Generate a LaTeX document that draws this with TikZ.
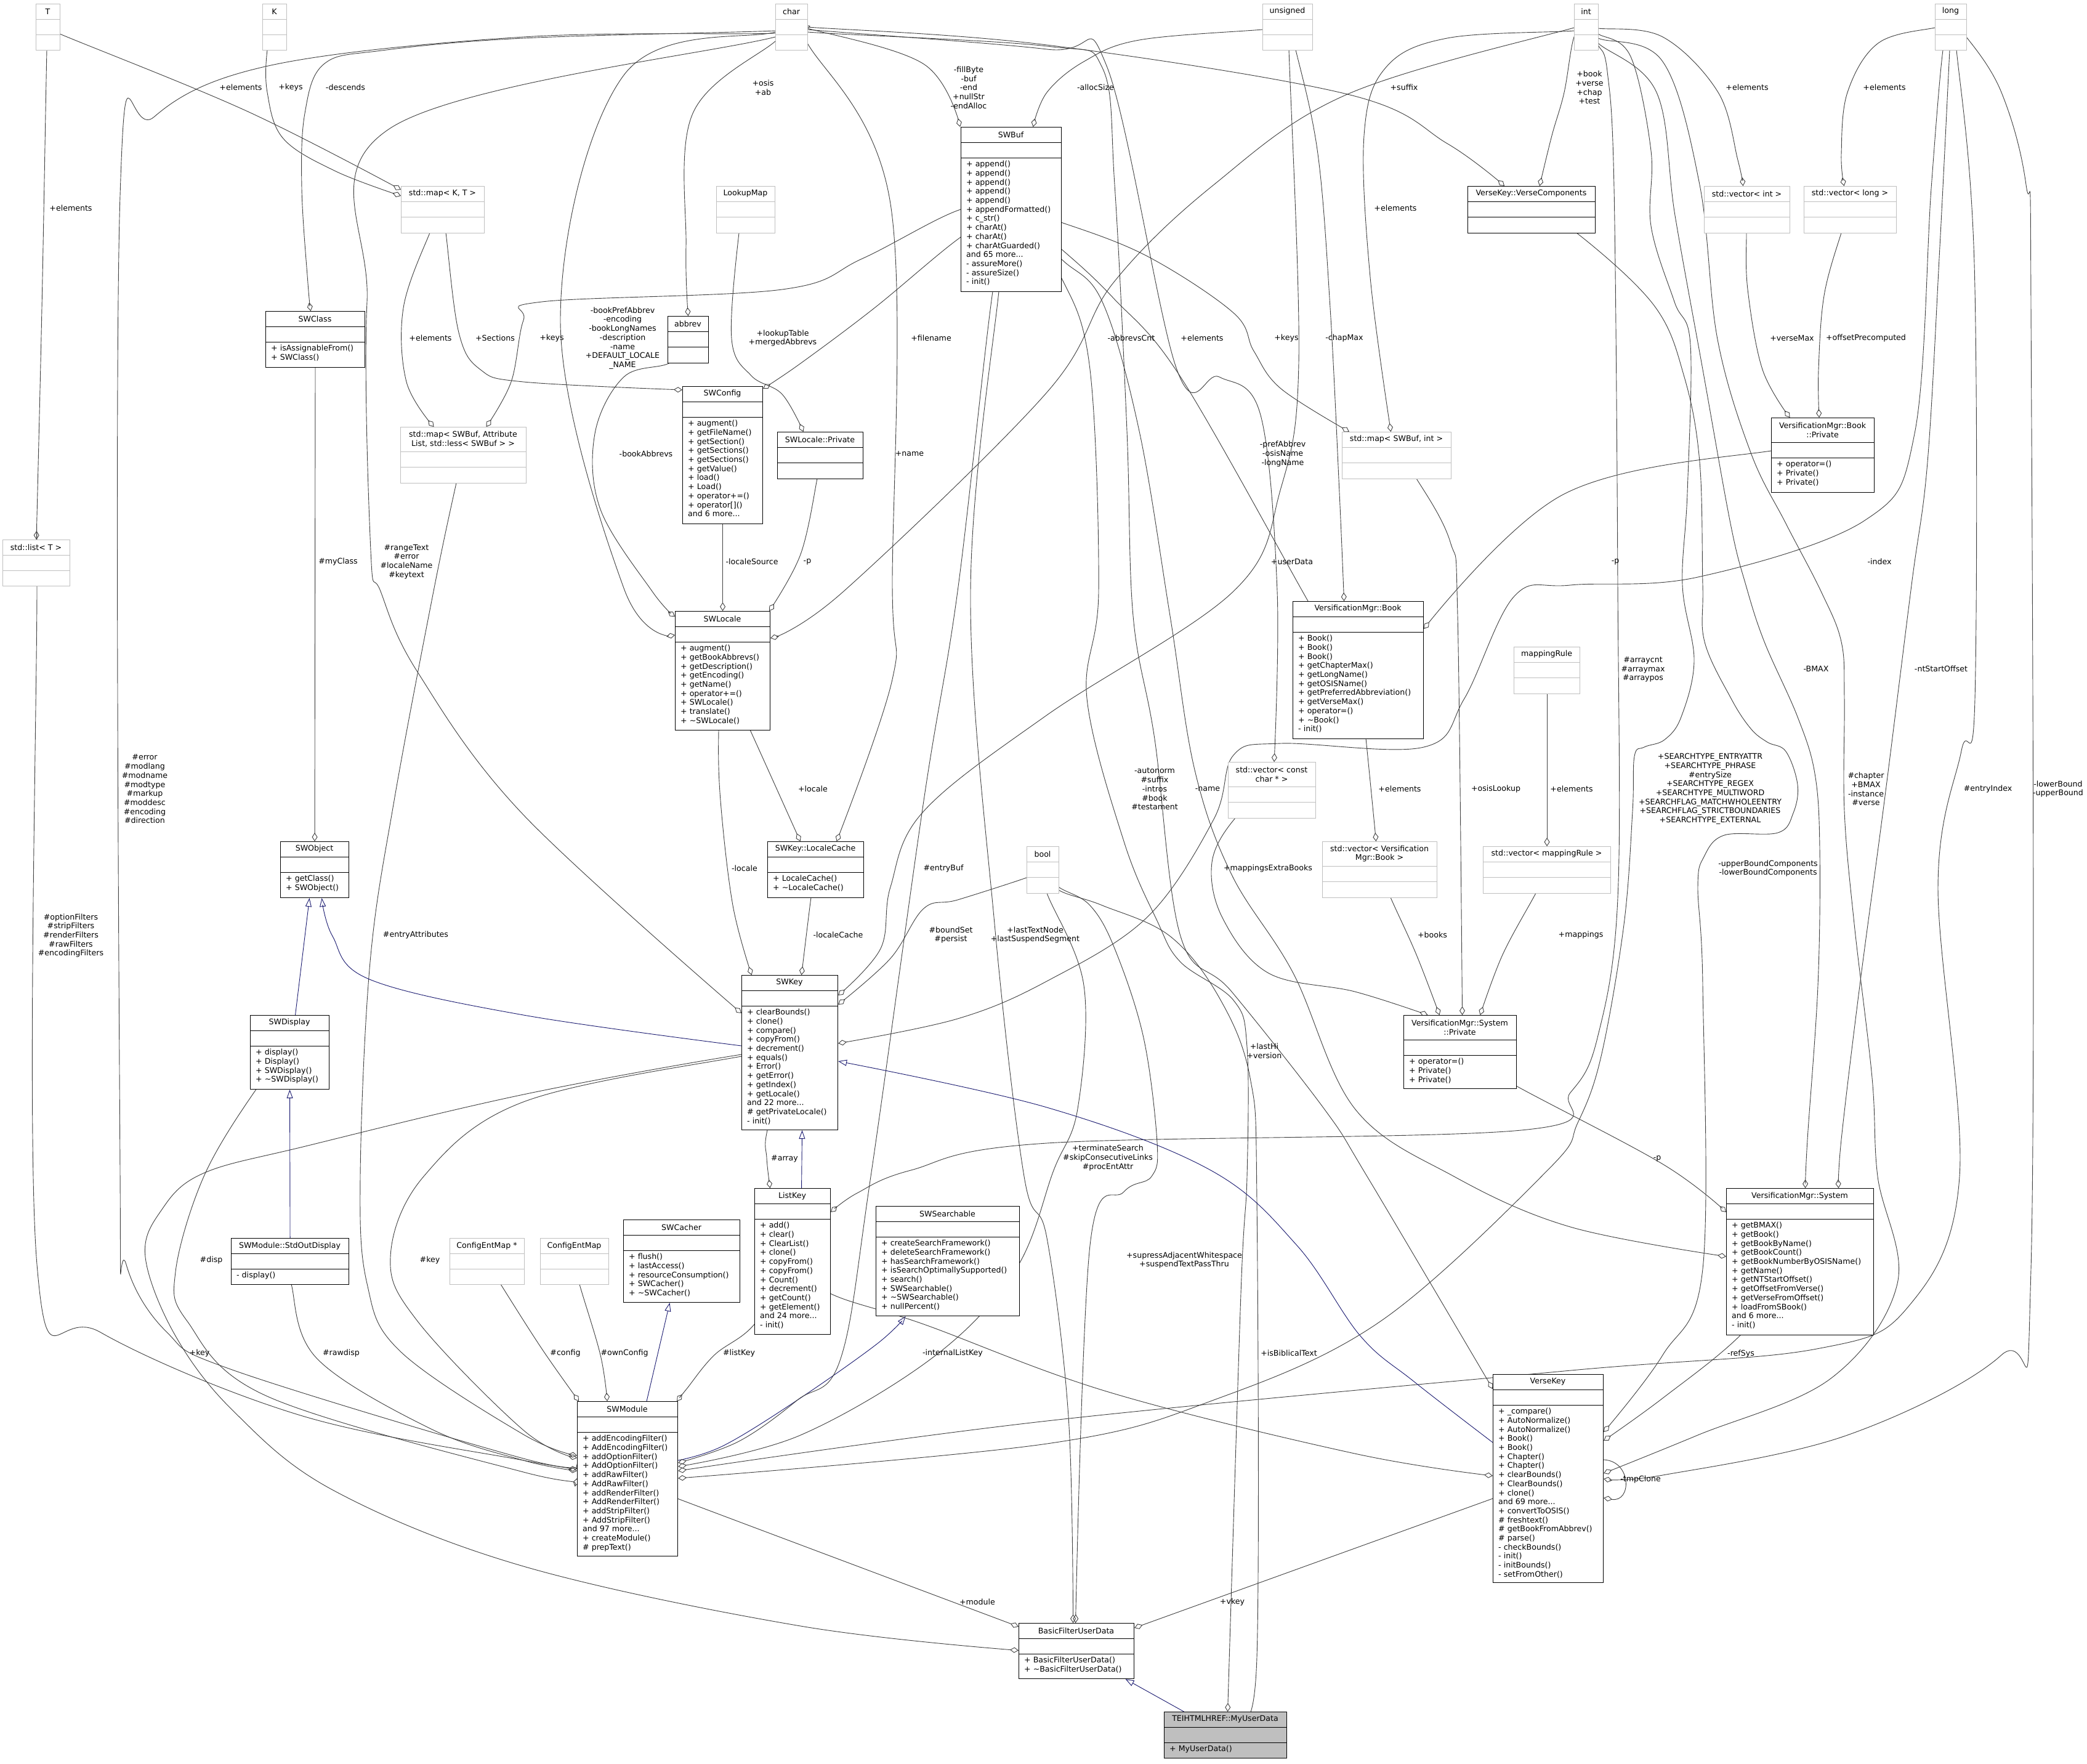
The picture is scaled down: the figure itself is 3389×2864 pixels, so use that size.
\documentclass[tikz,border=0pt]{standalone}
\usepackage{fontspec}
\setmainfont{DejaVu Sans}
\usetikzlibrary{arrows.meta}
\definecolor{edgec}{HTML}{404040}
\definecolor{inhc}{HTML}{191970}
\definecolor{graybd}{HTML}{BFBFBF}
\definecolor{hlfill}{HTML}{BFBFBF}
\newcommand\dxfont{\fontsize{12.6}{14.7}\selectfont}
\pgfdeclarelayer{bgfill}\pgfdeclarelayer{edges}
\pgfsetlayers{bgfill,edges,main}
\tikzset{
 gbox/.style={draw=graybd, fill=white, line width=1.1pt},
 bbox/.style={draw=black, fill=white, line width=1.1pt},
 hbox/.style={draw=black, fill=hlfill, line width=1.1pt},
 gboxline/.style={draw=graybd, line width=0.9pt},
 bboxline/.style={draw=black, line width=0.8pt},
 hboxline/.style={draw=black, line width=0.8pt},
 aggedge/.style={draw=edgec, line width=0.9pt, -{Diamond[open,length=14pt,width=9pt]}},
 inhedge/.style={draw=inhc, line width=0.9pt, -{Triangle[open,length=14pt,width=10pt]}},
 lbl/.style={font=\dxfont, align=center, inner sep=0pt},
}
\newcommand\umlbox[9]{%
 \node[#2, minimum width={(#5)-(#3)}, minimum height={(#6)-(#4)}, anchor=north west, inner sep=0pt] (#1) at (#3,#4) {};
 \draw[#2line] (#3,{#4+#7}) -- (#5,{#4+#7}) (#3,{#4+#7+25}) -- (#5,{#4+#7+25});
 \node[align=center, inner sep=0pt, font=\dxfont] at ({(#3+#5)/2},{#4+#7/2}) {#8};
 \node[align=left, anchor=north west, inner sep=0pt, font=\dxfont] at ({#3+9},{#4+#7+25+5}) {#9};
}
\newcommand\aggr[1]{\draw[aggedge] plot[smooth,tension=0.6] coordinates {#1};}
\newcommand\inhe[1]{\draw[inhedge] plot[smooth,tension=0.6] coordinates {#1};}
\begin{document}
\begin{tikzpicture}[x=1pt,y=-1pt]
\useasboundingbox (0,0) rectangle (3389,2864);
\begin{pgfonlayer}{bgfill}\fill[white] (0,0) rectangle (3389,2864);\end{pgfonlayer}
% ---------------- boxes
\umlbox{nT}{gbox}{58}{6}{97}{81}{25}{T}{}
\umlbox{nK}{gbox}{426}{6}{465}{81}{25}{K}{}
\umlbox{nchar}{gbox}{1259}{6}{1311}{81}{25}{char}{}
\umlbox{nuns}{gbox}{2050}{6}{2131}{81}{25}{unsigned}{}
\umlbox{nint}{gbox}{2556}{6}{2595}{81}{25}{int}{}
\umlbox{nlong}{gbox}{3142}{6}{3193}{81}{25}{long}{}
\umlbox{mapKT}{gbox}{651}{302}{786}{378}{25}{std::map< K, T >}{}
\umlbox{lookup}{gbox}{1163}{302}{1258}{378}{25}{LookupMap}{}
\umlbox{vkc}{bbox}{2383}{302}{2590}{378}{25}{VerseKey::VerseComponents}{}
\umlbox{vint}{gbox}{2767}{302}{2906}{378}{25}{std::vector< int >}{}
\umlbox{vlong}{gbox}{2929}{302}{3079}{378}{25}{std::vector< long >}{}
\umlbox{swbuf}{bbox}{1560}{206}{1723}{473}{25}{SWBuf}{+ append()\\+ append()\\+ append()\\+ append()\\+ append()\\+ appendFormatted()\\+ c\_str()\\+ charAt()\\+ charAt()\\+ charAtGuarded()\\and 65 more...\\- assureMore()\\- assureSize()\\- init()}
\umlbox{swclass}{bbox}{431}{505}{592}{596}{25}{SWClass}{+ isAssignableFrom()\\+ SWClass()}
\umlbox{abbrev}{bbox}{1084}{513}{1150}{589}{25}{abbrev}{}
\umlbox{swconfig}{bbox}{1108}{627}{1238}{850}{25}{SWConfig}{+ augment()\\+ getFileName()\\+ getSection()\\+ getSections()\\+ getSections()\\+ getValue()\\+ load()\\+ Load()\\+ operator+=()\\+ operator[]()\\and 6 more...}
\umlbox{mapAttr}{gbox}{650}{693}{854}{784}{40}{std::map< SWBuf, Attribute\\List, std::less< SWBuf > >}{}
\umlbox{slp}{bbox}{1262}{701}{1401}{777}{25}{SWLocale::Private}{}
\umlbox{mapInt}{gbox}{2179}{701}{2356}{777}{25}{std::map< SWBuf, int >}{}
\umlbox{bkp}{bbox}{2876}{678}{3043}{799}{40}{VersificationMgr::Book\\::Private}{+ operator=()\\+ Private()\\+ Private()}
\umlbox{slist}{gbox}{4}{876}{113}{951}{25}{std::list< T >}{}
\umlbox{swlocale}{bbox}{1096}{992}{1250}{1185}{25}{SWLocale}{+ augment()\\+ getBookAbbrevs()\\+ getDescription()\\+ getEncoding()\\+ getName()\\+ operator+=()\\+ SWLocale()\\+ translate()\\+ \textasciitilde SWLocale()}
\umlbox{vbook}{bbox}{2099}{976}{2311}{1199}{25}{VersificationMgr::Book}{+ Book()\\+ Book()\\+ Book()\\+ getChapterMax()\\+ getLongName()\\+ getOSISName()\\+ getPreferredAbbreviation()\\+ getVerseMax()\\+ operator=()\\+ \textasciitilde Book()\\- init()}
\umlbox{mrule}{gbox}{2458}{1050}{2565}{1126}{25}{mappingRule}{}
\umlbox{vchar}{gbox}{1994}{1237}{2136}{1328}{40}{std::vector< const\\char * >}{}
\umlbox{swobject}{bbox}{455}{1366}{566}{1457}{25}{SWObject}{+ getClass()\\+ SWObject()}
\umlbox{lcache}{bbox}{1246}{1366}{1402}{1457}{25}{SWKey::LocaleCache}{+ LocaleCache()\\+ \textasciitilde LocaleCache()}
\umlbox{vbookv}{gbox}{2147}{1366}{2333}{1457}{40}{std::vector< Versification\\Mgr::Book >}{}
\umlbox{vrule}{gbox}{2408}{1374}{2615}{1450}{25}{std::vector< mappingRule >}{}
\umlbox{nbool}{gbox}{1667}{1374}{1719}{1450}{25}{bool}{}
\umlbox{swkey}{bbox}{1204}{1583}{1360}{1834}{25}{SWKey}{+ clearBounds()\\+ clone()\\+ compare()\\+ copyFrom()\\+ decrement()\\+ equals()\\+ Error()\\+ getError()\\+ getIndex()\\+ getLocale()\\and 22 more...\\\# getPrivateLocale()\\- init()}
\umlbox{swdisplay}{bbox}{406}{1648}{534}{1768}{25}{SWDisplay}{+ display()\\+ Display()\\+ SWDisplay()\\+ \textasciitilde SWDisplay()}
\umlbox{sysp}{bbox}{2279}{1648}{2462}{1767}{40}{VersificationMgr::System\\::Private}{+ operator=()\\+ Private()\\+ Private()}
\umlbox{listkey}{bbox}{1225}{1929}{1348}{2166}{25}{ListKey}{+ add()\\+ clear()\\+ ClearList()\\+ clone()\\+ copyFrom()\\+ copyFrom()\\+ Count()\\+ decrement()\\+ getCount()\\+ getElement()\\and 24 more...\\- init()}
\umlbox{swsearch}{bbox}{1422}{1958}{1655}{2136}{25}{SWSearchable}{+ createSearchFramework()\\+ deleteSearchFramework()\\+ hasSearchFramework()\\+ isSearchOptimallySupported()\\+ search()\\+ SWSearchable()\\+ \textasciitilde SWSearchable()\\+ nullPercent()}
\umlbox{swcacher}{bbox}{1012}{1980}{1201}{2114}{25}{SWCacher}{+ flush()\\+ lastAccess()\\+ resourceConsumption()\\+ SWCacher()\\+ \textasciitilde SWCacher()}
\umlbox{vsys}{bbox}{2803}{1929}{3042}{2167}{25}{VersificationMgr::System}{+ getBMAX()\\+ getBook()\\+ getBookByName()\\+ getBookCount()\\+ getBookNumberByOSISName()\\+ getName()\\+ getNTStartOffset()\\+ getOffsetFromVerse()\\+ getVerseFromOffset()\\+ loadFromSBook()\\and 6 more...\\- init()}
\umlbox{sod}{bbox}{375}{2010}{566}{2085}{25}{SWModule::StdOutDisplay}{- display()}
\umlbox{cemp}{gbox}{730}{2010}{851}{2085}{25}{ConfigEntMap *}{}
\umlbox{cem}{gbox}{877}{2010}{988}{2085}{25}{ConfigEntMap}{}
\umlbox{versekey}{bbox}{2424}{2231}{2603}{2569}{25}{VerseKey}{+ \_compare()\\+ AutoNormalize()\\+ AutoNormalize()\\+ Book()\\+ Book()\\+ Chapter()\\+ Chapter()\\+ clearBounds()\\+ ClearBounds()\\+ clone()\\and 69 more...\\+ convertToOSIS()\\\# freshtext()\\\# getBookFromAbbrev()\\\# parse()\\- checkBounds()\\- init()\\- initBounds()\\- setFromOther()}
\umlbox{swmodule}{bbox}{937}{2275}{1100}{2526}{25}{SWModule}{+ addEncodingFilter()\\+ AddEncodingFilter()\\+ addOptionFilter()\\+ AddOptionFilter()\\+ addRawFilter()\\+ AddRawFilter()\\+ addRenderFilter()\\+ AddRenderFilter()\\+ addStripFilter()\\+ AddStripFilter()\\and 97 more...\\+ createModule()\\\# prepText()}
\umlbox{bfud}{bbox}{1654}{2635}{1841}{2725}{25}{BasicFilterUserData}{+ BasicFilterUserData()\\+ \textasciitilde BasicFilterUserData()}
\umlbox{myud}{hbox}{1890}{2779}{2089}{2854}{25}{TEIHTMLHREF::MyUserData}{+ MyUserData()}
% ---------------- edges
\begin{pgfonlayer}{edges}
\aggr{(nT) (97,55) (400,180) ([yshift=-6pt]mapKT.north west)}
\aggr{(nK) (434,81) (434,150) (460,225) (545,278) ([yshift=-16pt]mapKT.north west)}
\aggr{(nT) (76,81) (68,500) (slist.north)}
\aggr{(nchar) (1259,50) (850,62) (620,82) (526,104) (495,184) (490,306) (500,460) ([xshift=-7.5pt]swclass.north)}
\aggr{(nchar) (1259,54) (850,60) (440,106) (250,190) (195,318) (195,1900) (205,2053) (271,2163) (380,2225) (850,2368) ([yshift=25pt]swmodule.west)}
\aggr{(slist) (60,951) (60,2053) (163,2163) (488,2298) (850,2371) ([yshift=17pt]swmodule.west)}
\aggr{(mapAttr) (741,784) (704,960) (640,1300) (601,1562) (585,1910) (596,2084) (650,2194) (850,2329) ([yshift=38pt]swmodule.west)}
\aggr{(swkey) (1204,1715) (850,1789) (688,1910) (634,2041) (678,2145) (850,2322) ([yshift=34pt]swmodule.west)}
\aggr{(swdisplay) (415,1770) (331,1910) (285,2065) (304,2145) (434,2267) (850,2390) ([yshift=1pt]swmodule.west)}
\aggr{(sod) (473,2085) (515,2206) (700,2320) (850,2371) ([yshift=13pt]swmodule.west)}
\aggr{(swkey) (1204,1712) (850,1777) (500,1860) (330,1905) (262,1965) (236,2041) (285,2169) (380,2292) (542,2420) (850,2543) (1300,2640) ([yshift=1pt]bfud.west)}
\aggr{(cemp) (813,2085) (880,2190) ([xshift=3pt]swmodule.north west)}
\aggr{(cem) (941,2085) (975,2200) ([xshift=-33pt]swmodule.north)}
\aggr{(listkey) (1225,2150) (1160,2200) (1115,2255) ([xshift=-2pt]swmodule.north east)}
\draw[inhedge] ([xshift=31pt]swmodule.north) -- ([xshift=-19.5pt]swcacher.south);
\inhe{([yshift=30pt]swmodule.east) (1175,2347) (1295,2273) (1424,2182) ([xshift=-68.5pt]swsearch.south)}
\aggr{(swbuf) (1612,473) (1555,960) (1500,1300) (1414,1910) (1365,2206) (1295,2273) (1200,2340) ([yshift=26pt]swmodule.east)}
\aggr{(nbool) (1700,1450) (1760,1600) (1750,1800) (1711,1900) (1650,2060) (1520,2200) (1300,2330) ([yshift=20pt]swmodule.east)}
\aggr{(nlong) (3177,81) (3206,429) (3207,1134) (3185,1219) (3147,1440) (3182,1910) (3100,2120) (2950,2190) (2540,2226) (1700,2307) ([yshift=13pt]swmodule.east)}
\aggr{(nint) (2595,55) (2648,92) (2681,245) (2681,367) (2719,490) (2745,560) (2740,800) (2732,950) (2751,1072) (2730,1164) (2703,1201) (2670,1213) (2654,1228) (2651,1317) (2637,1501) (2600,1715) (2562,1823) (2513,1900) (2242,2145) (1971,2273) (1700,2344) ([yshift=1pt]swmodule.east)}
\aggr{(swmodule) (1100,2433) ([yshift=-6pt]bfud.north west)}
\aggr{(versekey) (2424,2433) ([yshift=-8pt]bfud.north east)}
\aggr{(swbuf) (1622,473) (1576,960) (1615,1500) (1663,1910) (1700,2010) (1735,2300) ([xshift=-5.5pt]bfud.north)}
\aggr{(nbool) (1719,1440) (1770,1470) (1810,1540) (1857,1685) (1879,1855) (1870,1910) (1825,1935) (1770,2022) ([xshift=-1.5pt]bfud.north)}
\aggr{(nbool) (1719,1445) (1790,1470) (1900,1520) (1980,1620) (2030,1750) (2041,1950) (2041,2690) ([xshift=24.5pt]myud.north)}
\aggr{(swbuf) (1723,450) (1770,600) (1784,960) (1765,1134) (1825,1366) (1879,1495) (1917,1562) (2003,1624) (2025,1700) (2025,1910) (2015,2100) ([xshift=3.5pt]myud.north)}
\aggr{(nchar) (1311,52) (1700,75) (1790,110) (1810,300) (1830,700) (1840,1000) (1875,1200) (1917,1520) (2000,1610) (2150,1800) (2220,1910) ([yshift=-24pt]versekey.north west)}
\aggr{(nuns) (2050,48) (1850,65) (1760,100) (1700,150) ([xshift=35.5pt]swbuf.north)}
\aggr{(nuns) (2093,81) (2109,588) (2079,796) (2003,960) (1700,1161) (1500,1317) (1446,1440) (1430,1540) ([yshift=-33pt]swkey.north east)}
\aggr{(nuns) (2104,81) (2140,250) (2160,500) (2175,800) ([xshift=-23pt]vbook.north)}
\aggr{(swbuf) (1723,404) (1808,484) (1917,612) (2115,960) ([xshift=-83pt]vbook.north)}
\aggr{(nint) (2556,60) (2540,150) (2520,220) ([xshift=13pt]vkc.north)}
\aggr{(nint) (2595,46) (2700,60) (2790,150) (2822,260) ([xshift=-6.5pt]vint.north)}
\aggr{(nlong) (3142,45) (3050,70) (3000,150) (2990,250) ([xshift=-10pt]vlong.north)}
\aggr{(nint) (2556,50) (2350,62) (2250,110) (2215,220) (2225,450) ([xshift=-9.5pt]mapInt.north)}
\aggr{(swbuf) (1723,361) (1863,416) (2003,508) (2036,570) (2080,631) ([xshift=-77pt]mapInt.north)}
\aggr{(nchar) (1311,44) (1700,73) (2188,153) (2350,233) ([xshift=-44pt]vkc.north)}
\aggr{(nchar) (1311,48) (1700,80) (1797,107) (1911,600) (1980,612) (2047,674) (2074,960) ([xshift=3.5pt]vchar.north)}
\aggr{(vint) (2836,378) (2838,470) (2862,600) ([xshift=-53.5pt]bkp.north)}
\aggr{(vlong) (2990,378) (2962,480) (2953,600) ([xshift=-6pt]bkp.north)}
\aggr{(bkp) (2876,732) (2540,802) ([yshift=-45pt]vbook.north east)}
\aggr{(mrule) (vrule.north)}
\aggr{(vbook) (2218,1199) ([xshift=-6pt]vbookv.north)}
\aggr{(vchar) (2006,1328) (1968,1400) (1985,1490) (2060,1580) (2200,1610) ([xshift=-52.5pt]sysp.north)}
\aggr{(vbookv) (2258,1457) (2300,1550) ([xshift=-33.5pt]sysp.north)}
\aggr{(mapInt) (2300,777) (2355,880) (2367,1000) ([xshift=3.5pt]sysp.north)}
\aggr{(vrule) (2494,1450) (2440,1550) ([xshift=32.5pt]sysp.north)}
\aggr{(sysp) (2462,1763) (2700,1890) ([yshift=-39pt]vsys.north west)}
\aggr{(swbuf) (1723,420) (1790,490) (1850,700) (1900,1000) (1940,1250) (2000,1420) (2100,1580) (2200,1800) (2361,1910) (2550,1992) ([yshift=-111pt]vsys.north west)}
\aggr{(listkey) (1348,2100) (1500,2150) (1800,2260) (2200,2360) ([yshift=-165pt]versekey.north west)}
\aggr{(vkc) (2560,378) (2686,496) (2735,612) (2760,750) (2765,950) (2768,1042) (2811,1134) (2843,1183) (2870,1205) (2900,1220) (2919,1274) (2912,1320) (2887,1352) (2800,1356) (2767,1391) (2757,1440) (2765,1600) (2765,2060) (2700,2200) ([yshift=-94pt]versekey.north east)}
\aggr{(vsys) (2827,2167) (2700,2270) ([yshift=-108pt]versekey.north east)}
\aggr{(nint) (2595,62) (2700,100) (2760,300) (2789,551) (2843,735) (2900,850) (2957,960) (2990,1042) (2995,1134) (2995,1317) (3011,1500) (3040,1750) (3049,1910) (3081,2084) (2973,2238) (2757,2330) ([yshift=-161pt]versekey.north east)}
\aggr{(nlong) (3193,60) (3250,150) (3290,300) (3298,500) (3298,2060) (3250,2200) (3000,2330) (2700,2395) ([yshift=-170pt]versekey.north east)}
\draw[aggedge] ([yshift=-139pt]versekey.north east) .. controls (2650,2372) and (2650,2440) .. ([yshift=-201pt]versekey.north east);
\aggr{(nint) (2595,70) (2690,150) (2720,350) (2765,600) (2810,850) (2835,950) (2865,1042) (2919,1164) (2947,1256) (2955,1379) (2952,1600) (2935,1850) ([xshift=8.5pt]vsys.north)}
\aggr{(nlong) (3166,81) (3150,400) (3130,750) (3104,950) (3060,1300) (3020,1600) (2990,1850) ([xshift=62.5pt]vsys.north)}
\aggr{(nint) (2595,73) (2610,116) (2621,306) (2627,950) (2627,1458) (2594,1685) (2550,1774) (2470,1835) (1700,1856) (1479,1900) (1392,1937) ([yshift=-39pt]listkey.north east)}
\aggr{(swkey) (1246,1835) (1245,1880) ([xshift=-36.5pt]listkey.north)}
\draw[inhedge] ([xshift=14.5pt]listkey.north) -- ([xshift=20pt]swkey.south);
\aggr{(swlocale) (1218,1185) ([xshift=-25pt]lcache.north)}
\aggr{(nchar) (1311,70) (1446,331) (1449,950) (1449,1103) ([xshift=34pt]lcache.north)}
\aggr{(lcache) (1317,1457) ([xshift=19pt]swkey.north)}
\aggr{(swlocale) (1167,1185) (1170,1300) (1190,1470) ([xshift=-62pt]swkey.north)}
\aggr{(swconfig) (swlocale.north)}
\aggr{(slp) (1327,777) (1300,900) ([xshift=-2pt]swlocale.north east)}
\aggr{(lookup) (1200,378) (1188,550) (1220,610) (1270,640) ([xshift=-27.5pt]slp.north)}
\aggr{(mapKT) (698,378) (655,500) (660,620) ([xshift=-48pt]mapAttr.north)}
\aggr{(swbuf) (1560,340) (1400,420) (1270,470) (880,490) (850,520) (830,620) ([xshift=37pt]mapAttr.north)}
\aggr{(mapKT) (724,378) (745,540) (780,600) (850,620) ([yshift=-6pt]swconfig.north west)}
\aggr{(swbuf) (1560,385) (1420,500) (1300,590) ([yshift=-4pt]swconfig.north east)}
\aggr{(nint) (2556,45) (2188,153) (1971,300) (1808,459) (1700,637) (1370,960) ([yshift=-44pt]swlocale.north east)}
\aggr{(nchar) (1259,67) (1125,184) (1114,400) (abbrev.north)}
\aggr{(nchar) (1259,52) (1013,122) (910,520) (1013,955) ([yshift=-39pt]swlocale.north west)}
\aggr{(abbrev) (1088,589) (1013,612) (966,704) (975,827) (1059,960) ([yshift=-9pt]swlocale.north west)}
\aggr{(nchar) (1259,60) (634,208) (596,490) (602,894) (618,960) (678,1091) (850,1323) ([yshift=-62pt]swkey.north west)}
\aggr{(nchar) (1311,46) (1500,104) ([xshift=-83pt]swbuf.north)}
\aggr{(swclass) (swobject.north)}
\draw[inhedge] ([xshift=9pt]swdisplay.north) -- ([xshift=-8.5pt]swobject.south);
\inhe{([yshift=-115pt]swkey.north west) (850,1648) (600,1590) (540,1520) ([xshift=11.5pt]swobject.south)}
\draw[inhedge] (sod.north) -- (swdisplay.south);
\inhe{([yshift=-111pt]versekey.north west) (2296,2243) (2209,2169) (2106,2022) (1966,1900) (1700,1798) ([yshift=-140pt]swkey.north east)}
\draw[inhedge] ([xshift=-67.5pt]myud.north) -- ([xshift=79.5pt]bfud.south);
\aggr{(nbool) (1667,1425) (1555,1461) (1500,1475) (1446,1556) ([yshift=-48pt]swkey.north east)}
\aggr{(nlong) (3155,81) (3136,306) (3109,704) (3028,845) (2757,937) (2550,950) (2459,968) (2378,1134) (2312,1213) (2080,1207) (2003,1226) (1971,1330) (1863,1489) (1700,1593) (1555,1654) ([yshift=-111pt]swkey.north east)}
\end{pgfonlayer}
% ---------------- labels
\node[lbl] (l1) at (391,142) {+elements};
\node[lbl] (l2) at (472,142) {+keys};
\node[lbl] (l3) at (561,142) {-descends};
\node[lbl] (l4) at (115,338) {+elements};
\node[lbl] (l5) at (699,549) {+elements};
\node[lbl] (l6) at (804,549) {+Sections};
\node[lbl] (l7) at (549,912) {\#myClass};
\node[lbl] (l8) at (660,912) {\#rangeText\\\#error\\\#localeName\\\#keytext};
\node[lbl] (l9) at (1239,142) {+osis\\+ab};
\node[lbl] (l10) at (1573,142) {-fillByte\\-buf\\-end\\+nullStr\\-endAlloc};
\node[lbl] (l11) at (1011,549) {-bookPrefAbbrev\\-encoding\\-bookLongNames\\-description\\-name\\+DEFAULT\_LOCALE\\\_NAME};
\node[lbl] (l12) at (896,549) {+keys};
\node[lbl] (l13) at (1271,549) {+lookupTable\\+mergedAbbrevs};
\node[lbl] (l14) at (1512,549) {+filename};
\node[lbl] (l15) at (1049,737) {-bookAbbrevs};
\node[lbl] (l16) at (1477,737) {+name};
\node[lbl] (l17) at (1221,912) {-localeSource};
\node[lbl] (l18) at (1311,912) {-p};
\node[lbl] (l19) at (1779,142) {-allocSize};
\node[lbl] (l20) at (2280,142) {+suffix};
\node[lbl] (l21) at (2266,338) {+elements};
\node[lbl] (l22) at (1837,549) {-abbrevsCnt};
\node[lbl] (l23) at (1952,549) {+elements};
\node[lbl] (l24) at (2089,549) {+keys};
\node[lbl] (l25) at (2183,549) {-chapMax};
\node[lbl] (l26) at (2083,737) {-prefAbbrev\\-osisName\\-longName};
\node[lbl] (l27) at (2098,912) {+userData};
\node[lbl] (l28) at (2581,142) {+book\\+verse\\+chap\\+test};
\node[lbl] (l29) at (2837,142) {+elements};
\node[lbl] (l30) at (3060,142) {+elements};
\node[lbl] (l31) at (2910,549) {+verseMax};
\node[lbl] (l32) at (3030,549) {+offsetPrecomputed};
\node[lbl] (l33) at (2623,912) {-p};
\node[lbl] (l34) at (3052,912) {-index};
\node[lbl] (l35) at (235,1281) {\#error\\\#modlang\\\#modname\\\#modtype\\\#markup\\\#moddesc\\\#encoding\\\#direction};
\node[lbl] (l36) at (115,1519) {\#optionFilters\\\#stripFilters\\\#renderFilters\\\#rawFilters\\\#encodingFilters};
\node[lbl] (l37) at (675,1518) {\#entryAttributes};
\node[lbl] (l38) at (1320,1281) {+locale};
\node[lbl] (l39) at (1209,1410) {-locale};
\node[lbl] (l40) at (1532,1410) {\#entryBuf};
\node[lbl] (l41) at (1361,1518) {-localeCache};
\node[lbl] (l42) at (1544,1518) {\#boundSet\\\#persist};
\node[lbl] (l43) at (1681,1518) {+lastTextNode\\+lastSuspendSegment};
\node[lbl] (l44) at (1875,1281) {-autonorm\\\#suffix\\-intros\\\#book\\\#testament};
\node[lbl] (l45) at (1961,1281) {-name};
\node[lbl] (l46) at (2273,1281) {+elements};
\node[lbl] (l47) at (2429,1281) {+osisLookup};
\node[lbl] (l48) at (2552,1281) {+elements};
\node[lbl] (l49) at (2059,1410) {+mappingsExtraBooks};
\node[lbl] (l50) at (2326,1518) {+books};
\node[lbl] (l51) at (2567,1518) {+mappings};
\node[lbl] (l52) at (2053,1706) {+lastHi\\+version};
\node[lbl] (l53) at (1799,1880) {+terminateSearch\\\#skipConsecutiveLinks\\\#procEntAttr};
\node[lbl] (l54) at (2668,1087) {\#arraycnt\\\#arraymax\\\#arraypos};
\node[lbl] (l55) at (2777,1281) {+SEARCHTYPE\_ENTRYATTR\\+SEARCHTYPE\_PHRASE\\\#entrySize\\+SEARCHTYPE\_REGEX\\+SEARCHTYPE\_MULTIWORD\\+SEARCHFLAG\_MATCHWHOLEENTRY\\+SEARCHFLAG\_STRICTBOUNDARIES\\+SEARCHTYPE\_EXTERNAL};
\node[lbl] (l56) at (2949,1086) {-BMAX};
\node[lbl] (l57) at (3152,1086) {-ntStartOffset};
\node[lbl] (l58) at (3030,1281) {\#chapter\\+BMAX\\-instance\\\#verse};
\node[lbl] (l59) at (3228,1281) {\#entryIndex};
\node[lbl] (l60) at (3342,1281) {-lowerBound\\-upperBound};
\node[lbl] (l61) at (2871,1410) {-upperBoundComponents\\-lowerBoundComponents};
\node[lbl] (l62) at (2691,1881) {-p};
\node[lbl] (l63) at (343,2046) {\#disp};
\node[lbl] (l64) at (698,2046) {\#key};
\node[lbl] (l65) at (324,2197) {+key};
\node[lbl] (l66) at (554,2197) {\#rawdisp};
\node[lbl] (l67) at (918,2197) {\#config};
\node[lbl] (l68) at (1014,2197) {\#ownConfig};
\node[lbl] (l69) at (1200,2197) {\#listKey};
\node[lbl] (l70) at (1547,2197) {-internalListKey};
\node[lbl] (l71) at (1587,2601) {+module};
\node[lbl] (l72) at (1923,2046) {+supressAdjacentWhitespace\\+suspendTextPassThru};
\node[lbl] (l73) at (2093,2197) {+isBiblicalText};
\node[lbl] (l74) at (2001,2601) {+vkey};
\node[lbl] (l75) at (2827,2198) {-refSys};
\node[lbl] (l76) at (2664,2402) {-tmpClone};
\node[lbl] (l77) at (1274,1881) {\#array};
\end{tikzpicture}
\end{document}
